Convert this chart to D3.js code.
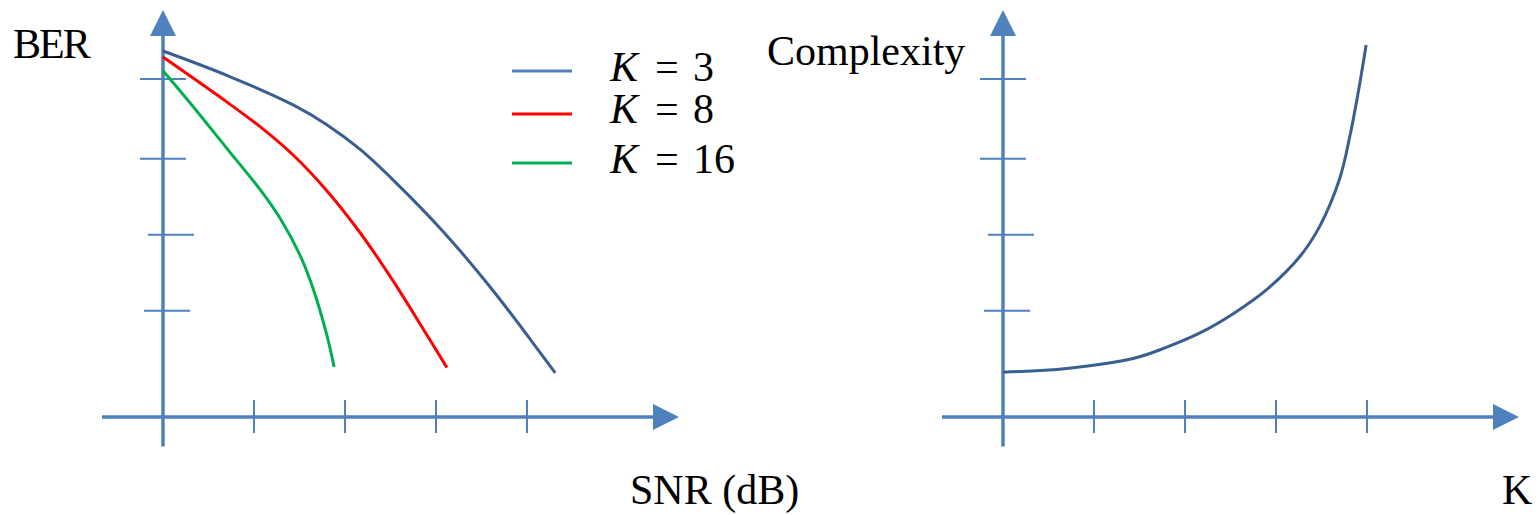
<!DOCTYPE html>
<html>
<head>
<meta charset="utf-8">
<script src="https://cdn.jsdelivr.net/npm/d3@7"></script>
<style>
  body { margin: 0; background: #fff; }
  svg { display: block; }
  text { font-family: "Liberation Serif", serif; fill: #000; }
</style>
</head>
<body>
<div id="chart"></div>
<script>
// BER vs SNR, one curve per K (values in plot units)
const snrK3 = [0, 0.70, 1.43, 1.80, 2.17, 2.53, 3.08, 3.63, 4.31];
const berK3 = [4.82, 4.50, 4.11, 3.85, 3.52, 3.12, 2.44, 1.66, 0.58];
const snrK8 = [0, 0.70, 1.07, 1.43, 1.80, 2.17, 2.53, 2.90, 3.12];
const berK8 = [4.74, 4.15, 3.82, 3.45, 2.98, 2.42, 1.79, 1.08, 0.65];
const snrK16 = [0, 0.33, 0.70, 1.07, 1.29, 1.51, 1.65, 1.80, 1.88];
const berK16 = [4.56, 4.09, 3.54, 2.99, 2.61, 2.12, 1.69, 1.08, 0.66];

// Complexity vs K
const kValues = [0, 0.70, 1.43, 1.80, 2.17, 2.53, 2.90, 3.26, 3.48, 3.70, 3.81, 3.92, 3.99];
const complexity = [0.59, 0.64, 0.77, 0.92, 1.11, 1.36, 1.68, 2.11, 2.51, 3.14, 3.69, 4.39, 4.90];

const legendLabels = ["3", "8", "16"];
const xTicks = [1, 2, 3, 4];
const yTicks = [1.4, 2.4, 3.4, 4.45];

// the y tick marks are drawn a bit off-centre in the original
const yTickShift = [4, 8, 0, 0];

const width = 1540, height = 515;
const axisColor = "#4f81bd";
const seriesColors = ["#3a5f8f", "#ff0000", "#00b050"];
const legendColors = ["#4f81bd", "#ff0000", "#00b050"];

const svg = d3.select("#chart")
  .append("svg")
  .attr("width", width)
  .attr("height", height);

function drawAxes(g, x, y) {
  const x0 = x(0), y0 = y(0);
  const xMax = x.range()[1], yMax = y.range()[1];
  const head = 26, half = 13;
  // axis lines
  g.append("line")
    .attr("x1", x(-0.67)).attr("x2", xMax - head + 1)
    .attr("y1", y0).attr("y2", y0)
    .attr("stroke", axisColor).attr("stroke-width", 3.5);
  g.append("line")
    .attr("x1", x0).attr("x2", x0)
    .attr("y1", y(-0.39)).attr("y2", yMax + head - 1)
    .attr("stroke", axisColor).attr("stroke-width", 3.5);
  // arrow heads
  g.append("path")
    .attr("d", `M${xMax},${y0} L${xMax - head},${y0 - half} L${xMax - head},${y0 + half} Z`)
    .attr("fill", axisColor);
  g.append("path")
    .attr("d", `M${x0},${yMax} L${x0 - half},${yMax + head} L${x0 + half},${yMax + head} Z`)
    .attr("fill", axisColor);
  // ticks
  g.selectAll(".xtick")
    .data(xTicks)
    .join("line")
    .attr("class", "xtick")
    .attr("x1", d => x(d)).attr("x2", d => x(d))
    .attr("y1", y0 - 17).attr("y2", y0 + 16)
    .attr("stroke", axisColor).attr("stroke-width", 2);
  g.selectAll(".ytick")
    .data(yTicks)
    .join("line")
    .attr("class", "ytick")
    .attr("x1", (d, i) => x0 - 23 + yTickShift[i])
    .attr("x2", (d, i) => x0 + 23 + yTickShift[i])
    .attr("y1", d => y(d)).attr("y2", d => y(d))
    .attr("stroke", axisColor).attr("stroke-width", 2);
}

// ---- left panel: BER ----
const xL = d3.scaleLinear().domain([0, 5.67]).range([163, 679]);
const yL = d3.scaleLinear().domain([0, 5.36]).range([417, 10]);
const left = svg.append("g");
drawAxes(left, xL, yL);

const series = [
  snrK3.map((s, i) => [s, berK3[i]]),
  snrK8.map((s, i) => [s, berK8[i]]),
  snrK16.map((s, i) => [s, berK16[i]])
];
const lineL = d3.line()
  .x(d => xL(d[0]))
  .y(d => yL(d[1]))
  .curve(d3.curveCatmullRom.alpha(0.5));
left.selectAll(".curve")
  .data(series)
  .join("path")
  .attr("class", "curve")
  .attr("d", lineL)
  .attr("fill", "none")
  .attr("stroke", (d, i) => seriesColors[i])
  .attr("stroke-width", 3);

left.append("text").attr("x", 13).attr("y", 58)
  .style("font-size", "42px").style("letter-spacing", "-2px").text("BER");
left.append("text").attr("x", 630).attr("y", 504)
  .style("font-size", "42px").text("SNR (dB)");

// legend
const legend = left.append("g");
const legendY = [71, 114, 163];
const legendBase = [81, 123, 173];
legend.selectAll("line")
  .data(legendLabels)
  .join("line")
  .attr("x1", 512).attr("x2", 572)
  .attr("y1", (d, i) => legendY[i]).attr("y2", (d, i) => legendY[i])
  .attr("stroke", (d, i) => legendColors[i])
  .attr("stroke-width", 3);
const lt = legend.selectAll("text")
  .data(legendLabels)
  .join("text")
  .attr("y", (d, i) => legendBase[i])
  .style("font-size", "42px");
lt.append("tspan").attr("x", 610).style("font-style", "italic").text("K");
lt.append("tspan").attr("x", 655).text("=");
lt.append("tspan").attr("x", 693).text(d => d);

// ---- right panel: Complexity ----
const xR = d3.scaleLinear().domain([0, 5.67]).range([1003, 1519]);
const yR = d3.scaleLinear().domain([0, 5.36]).range([417, 10]);
const right = svg.append("g");
drawAxes(right, xR, yR);

const lineR = d3.line()
  .x(d => xR(d[0]))
  .y(d => yR(d[1]))
  .curve(d3.curveCatmullRom.alpha(0.5));
right.append("path")
  .datum(kValues.map((k, i) => [k, complexity[i]]))
  .attr("d", lineR)
  .attr("fill", "none")
  .attr("stroke", seriesColors[0])
  .attr("stroke-width", 3);

right.append("text").attr("x", 767).attr("y", 65)
  .style("font-size", "42px").text("Complexity");
right.append("text").attr("x", 1502).attr("y", 504)
  .style("font-size", "42px").text("K");
</script>
</body>
</html>
